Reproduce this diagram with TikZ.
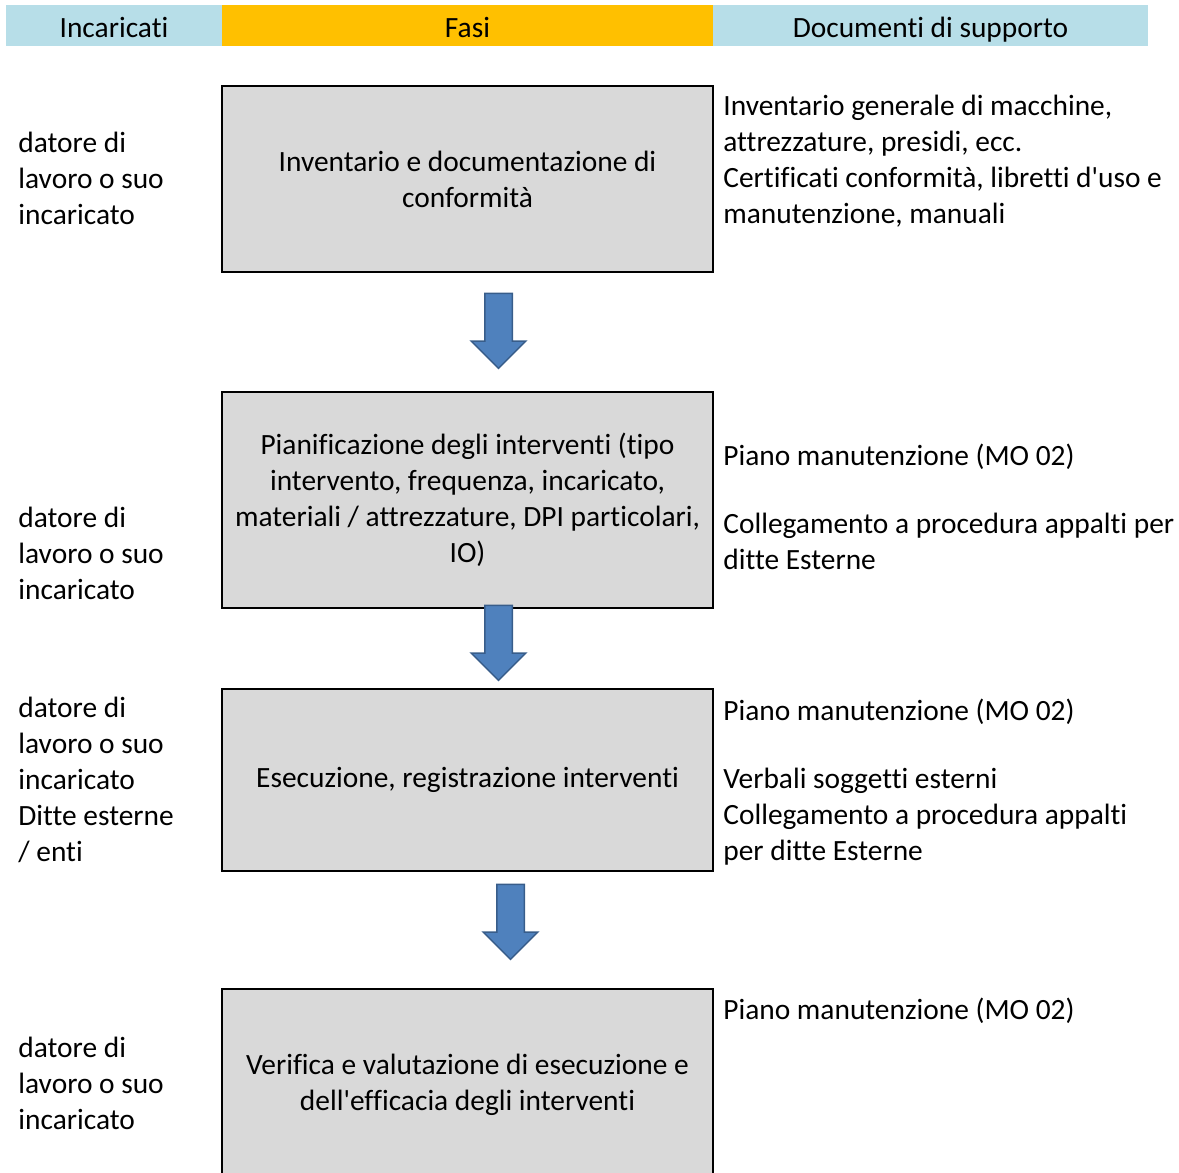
\documentclass[tikz,border=0pt]{standalone}
\usepackage{fontspec}
\setmainfont{Carlito}[Ligatures={NoCommon}]
\usepackage{xcolor}
\usetikzlibrary{positioning,shapes.arrows}

\definecolor{hdblue}{HTML}{B7DEE8}
\definecolor{hdorange}{HTML}{FFC000}
\definecolor{fasegray}{HTML}{D9D9D9}
\definecolor{arrowblue}{HTML}{4F81BD}
\definecolor{arrowborder}{HTML}{385D8A}

\begin{document}
\begin{tikzpicture}[x=0.5pt,y=-0.5pt,font=\fontsize{14.7}{18}\selectfont,
				header/.style={minimum height=20.5pt,inner sep=0pt,outer sep=0pt,text height=12pt,text depth=0pt},
				fase/.style={draw,fill=fasegray,line width=1pt,minimum width=245.5pt,align=center},
				note/.style={anchor=west,align=left,inner sep=0pt},
				freccia/.style={single arrow,draw=arrowborder,fill=arrowblue,line width=0.75pt,
					shape border rotate=270,minimum height=37.5pt,inner xsep=6.5pt,inner ysep=0pt,
					single arrow head extend=6.75pt}]
			\useasboundingbox (0,0) rectangle (1179,1173);
			\clip (0,0) rectangle (1179,1173);

			% intestazione
			\node[header,fill=hdorange,minimum width=245.5pt] (hfasi) at (467.5,25.5) {Fasi};
			\node[header,fill=hdblue,minimum width=108pt,left=0pt of hfasi] (hinc) {Incaricati};
			\node[header,fill=hdblue,minimum width=217.5pt,right=0pt of hfasi] (hdoc) {Documenti di supporto};

			% fasi
			\node[fase,minimum height=93pt] (F1) at (467.5,179) {Inventario e documentazione di\\conformità};
			\node[fase,minimum height=108pt] (F2) at (467.5,500) {Pianificazione degli interventi (tipo\\intervento, frequenza, incaricato,\\materiali / attrezzature, DPI particolari,\\IO)};
			\node[fase,minimum height=91pt] (F3) at (467.5,780) {Esecuzione, registrazione interventi};
			\node[fase,minimum height=96pt] (F4) at (467.5,1085) {Verifica e valutazione di esecuzione e\\dell\textquotesingle efficacia degli interventi};

			\node[freccia] (fr1) at (498.5,324) {};
			\node[freccia] (fr2) at (498.5,636) {};
			\node[freccia] (fr3) at (510.5,915) {};

			% incaricati
			\node[note] (I1) at (18,178) {datore di\\lavoro o suo\\incaricato};
			\node[note] (I2) at (18,553) {datore di\\lavoro o suo\\incaricato};
			\node[note] (I3) at (18,779.5) {datore di\\lavoro o suo\\incaricato\\Ditte esterne\\/ enti};
			\node[note] (I4) at (18,1083) {datore di\\lavoro o suo\\incaricato};

			% documenti
			\node[note] (D1) at (723,161) {Inventario generale di macchine,\\attrezzature, presidi, ecc.\\Certificati conformità, libretti d\textquotesingle uso e\\manutenzione, manuali};
			\node[note] (D2) at (723,507) {Piano manutenzione (MO 02)\\[16pt]Collegamento a procedura appalti per\\ditte Esterne};
			\node[note] (D3) at (723,782.5) {Piano manutenzione (MO 02)\\[16pt]Verbali soggetti esterni\\Collegamento a procedura appalti\\per ditte Esterne};
			\node[note] (D4) at (723,1011) {Piano manutenzione (MO 02)};
		\end{tikzpicture}
\end{document}
